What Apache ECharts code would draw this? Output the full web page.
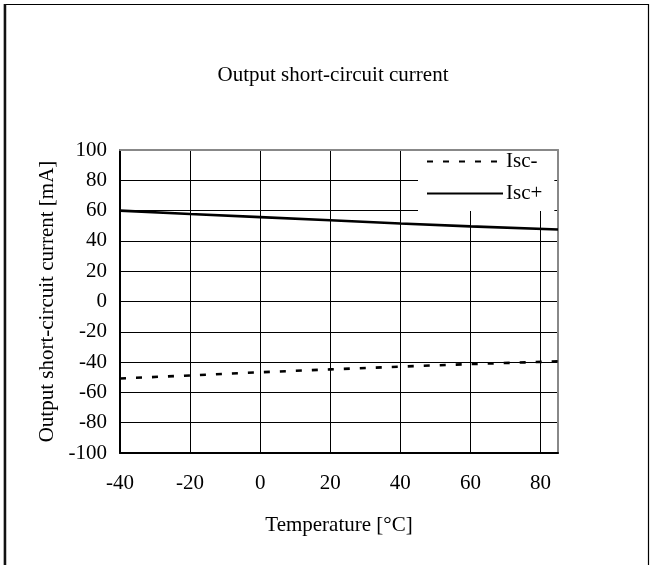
<!DOCTYPE html>
<html>
<head>
<meta charset="utf-8">
<script src="https://cdn.jsdelivr.net/npm/echarts@6/dist/echarts.min.js"></script>
<style>
html,body{margin:0;padding:0;background:#fff;}
#c{width:652px;height:565px;}
</style>
</head>
<body>
<div id="c"></div>
<script>
var temps = [-40, -20, 0, 20, 40, 60, 85];
var iscMinus = [-50.8, -48.8, -46.7, -44.8, -43, -41.3, -39.5];
var iscPlus = [60, 57.8, 55.7, 53.6, 51.5, 49.6, 47.5];
var seriesNames = ['Isc-', 'Isc+'];

var FONT = 'Liberation Serif';
var chart = echarts.init(document.getElementById('c'));

function pairs(xs, ys) { return xs.map(function (x, i) { return [x, ys[i]]; }); }

chart.setOption({
  animation: false,
  backgroundColor: '#fff',
  textStyle: { fontFamily: FONT, color: '#000' },
  title: {
    text: 'Output short-circuit current',
    left: 328, top: 60, textAlign: 'center',
    textStyle: { fontFamily: FONT, fontSize: 21, fontWeight: 'normal', color: '#000' }
  },
  graphic: [
    { type: 'rect', shape: { x: 4.5, y: 4.5, width: 644, height: 620 }, style: { fill: 'none', stroke: '#000', lineWidth: 1.2 }, silent: true },
    { type: 'line', shape: { x1: 5, y1: 4, x2: 5, y2: 565 }, style: { stroke: '#111', lineWidth: 2.5 }, silent: true }
  ],
  grid: { left: 120, right: 94, top: 150, bottom: 112 },
  legend: {
    orient: 'vertical',
    left: 418, top: 151,
    padding: [0, 12, 7, 8],
    backgroundColor: '#fff',
    itemWidth: 76, itemHeight: 14, itemGap: 11,
    itemStyle: { opacity: 0 },
    textStyle: { fontFamily: FONT, fontSize: 21, color: '#000', lineHeight: 21, padding: [0, 0, 0, -2] },
    data: seriesNames
  },
  xAxis: [{
    type: 'value', min: -40, max: 85, interval: 20,
    name: 'Temperature [°C]', nameLocation: 'middle', nameGap: 62,
    nameTextStyle: { fontFamily: FONT, fontSize: 21, color: '#000' },
    axisLine: { show: true, onZero: false, lineStyle: { color: '#000', width: 2 } },
    axisTick: { show: false },
    axisLabel: { fontFamily: FONT, fontSize: 21, color: '#000', margin: 20,
      formatter: function (v) { return (v % 20 === 0) ? String(v) : ''; } },
    splitLine: { show: true, lineStyle: { color: '#000', width: 1 } }
  }, {
    type: 'value', min: -40, max: 85, position: 'top',
    axisLine: { show: true, onZero: false, lineStyle: { color: '#888', width: 2 } },
    axisTick: { show: false }, axisLabel: { show: false }, splitLine: { show: false }
  }],
  yAxis: [{
    type: 'value', min: -100, max: 100, interval: 20,
    name: 'Output short-circuit current [mA]', nameLocation: 'middle', nameGap: 60,
    nameTextStyle: { fontFamily: FONT, fontSize: 21, color: '#000' },
    axisLine: { show: true, onZero: false, lineStyle: { color: '#000', width: 2 } },
    axisTick: { show: false },
    axisLabel: { fontFamily: FONT, fontSize: 21, color: '#000', margin: 13 },
    splitLine: { show: true, lineStyle: { color: '#000', width: 1 } }
  }, {
    type: 'value', min: -100, max: 100, position: 'right',
    axisLine: { show: true, onZero: false, lineStyle: { color: '#888', width: 2 } },
    axisTick: { show: false }, axisLabel: { show: false }, splitLine: { show: false }
  }],
  series: [{
    name: seriesNames[0], type: 'line', xAxisIndex: 0, yAxisIndex: 0,
    data: pairs(temps, iscMinus), symbol: 'none',
    lineStyle: { color: '#000', width: 2.6, type: [6, 10] },
    itemStyle: { color: '#000' }
  }, {
    name: seriesNames[1], type: 'line', xAxisIndex: 0, yAxisIndex: 0,
    data: pairs(temps, iscPlus), symbol: 'none',
    lineStyle: { color: '#000', width: 2.6, type: 'solid' },
    itemStyle: { color: '#000' }
  }]
});
</script>
</body>
</html>
